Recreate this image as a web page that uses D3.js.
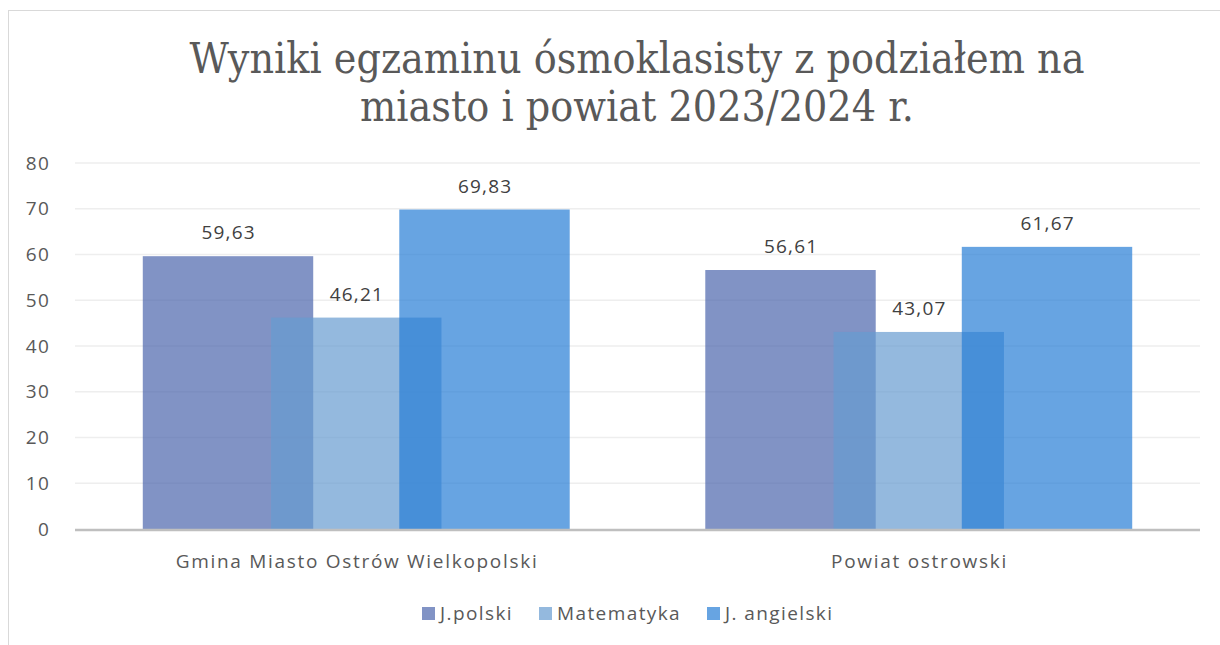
<!DOCTYPE html>
<html>
<head>
<meta charset="utf-8">
<script src="https://cdn.jsdelivr.net/npm/d3@7"></script>
<style>
  body { margin: 0; background: #fff; }
  svg { display: block; }
</style>
</head>
<body>
<div id="chart"></div>
<script>
// Data
const categories = ["Gmina Miasto Ostrów Wielkopolski", "Powiat ostrowski"];
const seriesNames = ["J.polski", "Matematyka", "J. angielski"];
const jPolski = [59.63, 56.61];
const matematyka = [46.21, 43.07];
const jAngielski = [69.83, 61.67];
const yTicks = [0, 10, 20, 30, 40, 50, 60, 70, 80];
const titleLines = ["Wyniki egzaminu ósmoklasisty z podziałem na", "miasto i powiat 2023/2024 r."];

const seriesValues = [jPolski, matematyka, jAngielski];
const colors = ["#4b65ac", "#669bd0", "#267ed6"];
const barOpacity = 0.7;

const width = 1220, height = 645;
const margin = { left: 75, right: 20, top: 163, bottom: 116 };
const font = "'Open Sans', sans-serif";

const pl = d3.formatLocale({ decimal: ",", thousands: " ", grouping: [3], currency: ["", " zł"] });
const fmt = pl.format(".2f");

const svg = d3.select("#chart").append("svg")
  .attr("width", width)
  .attr("height", height);

// chart border
svg.append("rect")
  .attr("x", 8.5).attr("y", 10.5)
  .attr("width", 1240).attr("height", 660)
  .attr("fill", "none")
  .attr("stroke", "#d9d9d9");

// title
svg.append("text")
  .attr("text-anchor", "middle")
  .attr("font-family", "'DejaVu Serif', serif")
  .attr("font-stretch", "condensed")
  .attr("font-size", 42.5)
  .attr("fill", "#595959")
  .selectAll("tspan")
  .data(titleLines)
  .join("tspan")
  .attr("x", 637)
  .attr("y", (d, i) => 73 + i * 48)
  .text(d => d);

const x0 = d3.scaleBand()
  .domain(categories)
  .range([margin.left, 1200])
  .paddingInner(0)
  .paddingOuter(0);

const y = d3.scaleLinear()
  .domain([0, 80])
  .range([529, 163]);

// gridlines
svg.append("g")
  .selectAll("line")
  .data(yTicks.filter(t => t > 0))
  .join("line")
  .attr("x1", margin.left).attr("x2", 1200)
  .attr("y1", d => y(d)).attr("y2", d => y(d))
  .attr("stroke", "#eeeeee")
  .attr("stroke-width", 1.5);

// y axis labels
const yAxis = d3.axisLeft(y).tickValues(yTicks).tickSize(0).tickPadding(25);
const gy = svg.append("g")
  .attr("transform", `translate(${margin.left},0)`)
  .call(yAxis);
gy.select(".domain").remove();
gy.selectAll("text")
  .attr("font-family", font)
  .attr("font-size", 19)
  .attr("letter-spacing", 1.2)
  .attr("fill", "#595959");

// bars: overlapping within each group
const barW = x0.bandwidth() * 0.303;
const step = x0.bandwidth() * 0.228;

const barData = [];
categories.forEach((c, ci) => {
  seriesValues.forEach((vals, si) => {
    barData.push({ cat: c, si, value: vals[ci] });
  });
});

const bx = d => x0(d.cat) + x0.bandwidth() / 2 + (d.si - 1) * step - barW / 2;

svg.append("g")
  .selectAll("rect")
  .data(barData)
  .join("rect")
  .attr("x", bx)
  .attr("y", d => y(d.value))
  .attr("width", barW)
  .attr("height", d => y(0) - y(d.value))
  .attr("fill", d => colors[d.si])
  .attr("fill-opacity", barOpacity);

// baseline
svg.append("line")
  .attr("x1", margin.left).attr("x2", 1200)
  .attr("y1", y(0) + 1).attr("y2", y(0) + 1)
  .attr("stroke", "#bfbfbf")
  .attr("stroke-width", 2.5);

// data labels
svg.append("g")
  .selectAll("text")
  .data(barData)
  .join("text")
  .attr("x", d => bx(d) + barW / 2 + 0.6)
  .attr("y", d => y(d.value) - 17)
  .attr("text-anchor", "middle")
  .attr("font-family", font)
  .attr("font-size", 19)
  .attr("letter-spacing", 1.2)
  .attr("fill", "#404040")
  .text(d => fmt(d.value));

// category labels
svg.append("g")
  .selectAll("text")
  .data(categories)
  .join("text")
  .attr("x", d => x0(d) + x0.bandwidth() / 2 + 0.8)
  .attr("y", 568)
  .attr("text-anchor", "middle")
  .attr("font-family", font)
  .attr("font-size", 19)
  .attr("letter-spacing", 1.7)
  .attr("fill", "#595959")
  .text(d => d);

// legend
const legendX = [422, 539, 707];
const legend = svg.append("g")
  .selectAll("g")
  .data(seriesNames)
  .join("g")
  .attr("transform", (d, i) => `translate(${legendX[i]},607)`);
legend.append("rect")
  .attr("width", 13).attr("height", 13)
  .attr("fill", (d, i) => colors[i])
  .attr("fill-opacity", barOpacity);
legend.append("text")
  .attr("x", 18).attr("y", 13)
  .attr("font-family", font)
  .attr("font-size", 19)
  .attr("letter-spacing", 1.4)
  .attr("fill", "#595959")
  .text(d => d);
</script>
</body>
</html>
